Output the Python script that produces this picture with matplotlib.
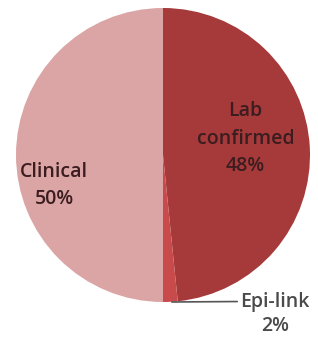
import matplotlib.pyplot as plt

labels = ["Lab\nconfirmed", "Epi-link", "Clinical"]
values = [48.4, 1.6, 50]
shown = [48, 2, 50]
colors = ["#a6393a", "#c94a4b", "#dba5a6"]

W, H = 318, 341
cx, cy, r = 163, 155, 147


def paint():
    fig = plt.figure(figsize=(W / 100, H / 100), dpi=100)
    ax = fig.add_axes([(cx - r) / W, (H - cy - r) / H, 2 * r / W, 2 * r / H])
    ax.pie(values, colors=colors, startangle=90, counterclock=False,
           radius=1, wedgeprops=dict(linewidth=0))
    ax.set_xlim(-1, 1)
    ax.set_ylim(-1, 1)
    ax.axis("off")

    font = dict(family="Open Sans", fontweight="semibold", fontsize=14,
                ha="center", va="center")
    ax.text(0.56, 0.11, "%s\n%d%%" % (labels[0], shown[0]), color="#3c1d1f",
            linespacing=1.5, **font)
    ax.text(-0.74, -0.21, "%s\n%d%%" % (labels[2], shown[2]), color="#3c1d1f",
            linespacing=1.45, **font)

    ax.annotate("%s\n%d%%" % (labels[1], shown[1]), xy=(0.06, -1.0),
                xytext=(0.76, -1.08), textcoords="data",
                color="#4a4a4a", annotation_clip=False, linespacing=1.25,
                arrowprops=dict(arrowstyle="-", color="#555555", lw=1.2,
                                shrinkA=0, shrinkB=0, relpos=(0.0, 0.78)),
                **font)
    fig.savefig("out.png", dpi=100)


if __name__ == "__main__":
    paint()
